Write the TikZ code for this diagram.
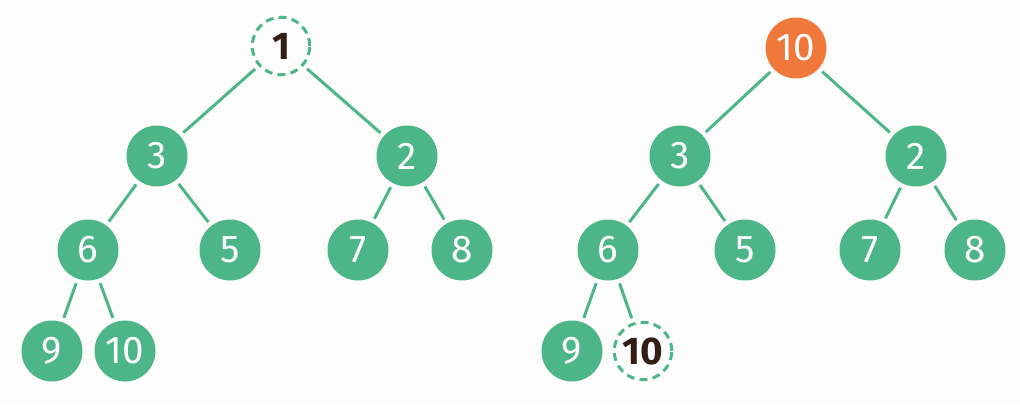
\documentclass[tikz,border=0pt]{standalone}
\usepackage{fontspec}
\setmainfont{Fira Sans}
\definecolor{heapgreen}{RGB}{76,182,137}
\definecolor{heaporange}{RGB}{240,120,58}
\definecolor{inkbrown}{RGB}{50,30,20}
\definecolor{bgwhite}{RGB}{253,253,253}
\begin{document}
\begin{tikzpicture}[x=0.02cm,y=-0.02cm,
  heapnode/.style={circle,fill=heapgreen,text=white,minimum size=1.22cm,inner sep=0pt,font=\fontsize{22}{22}\selectfont},
  topnode/.style={circle,fill=heaporange,text=white,minimum size=1.22cm,inner sep=0pt,font=\fontsize{22}{22}\selectfont},
  holenode/.style={circle,draw=heapgreen,line width=1.7pt,dash pattern=on 4.5pt off 3pt,text=inkbrown,minimum size=1.15cm,inner sep=0pt,font=\fontsize{22}{22}\selectfont\bfseries},
  edge/.style={draw=heapgreen,line width=1.7pt,shorten >=2.5pt,shorten <=2.5pt}]
\fill[bgwhite] (0,0) rectangle (1020,406);
\useasboundingbox (0,0) rectangle (1020,406);
% left tree
\node[holenode] (a1) at (281,46) {1};
\node[heapnode] (a3) at (157,156) {3};
\node[heapnode] (a2) at (407,156) {2};
\node[heapnode] (a6) at (88,250) {6};
\node[heapnode] (a5) at (230,250) {5};
\node[heapnode] (a7) at (358,250) {7};
\node[heapnode] (a8) at (462,250) {8};
\node[heapnode] (a9) at (52,351) {9};
\node[heapnode] (a10) at (125,351) {10};
\path[edge] (a1) -- (a3);
\path[edge] (a1) -- (a2);
\path[edge] (a3) -- (a6);
\path[edge] (a3) -- (a5);
\path[edge] (a2) -- (a7);
\path[edge] (a2) -- (a8);
\path[edge] (a6) -- (a9);
\path[edge] (a6) -- (a10);
% right tree
\node[topnode] (b10) at (796,48) {10};
\node[heapnode] (b3) at (680,156) {3};
\node[heapnode] (b2) at (916,156) {2};
\node[heapnode] (b6) at (608,250) {6};
\node[heapnode] (b5) at (745,250) {5};
\node[heapnode] (b7) at (870,250) {7};
\node[heapnode] (b8) at (975,250) {8};
\node[heapnode] (b9) at (572,351) {9};
\node[holenode] (bh) at (643,351) {10};
\path[edge] (b10) -- (b3);
\path[edge] (b10) -- (b2);
\path[edge] (b3) -- (b6);
\path[edge] (b3) -- (b5);
\path[edge] (b2) -- (b7);
\path[edge] (b2) -- (b8);
\path[edge] (b6) -- (b9);
\path[edge] (b6) -- (bh);
\end{tikzpicture}
\end{document}
